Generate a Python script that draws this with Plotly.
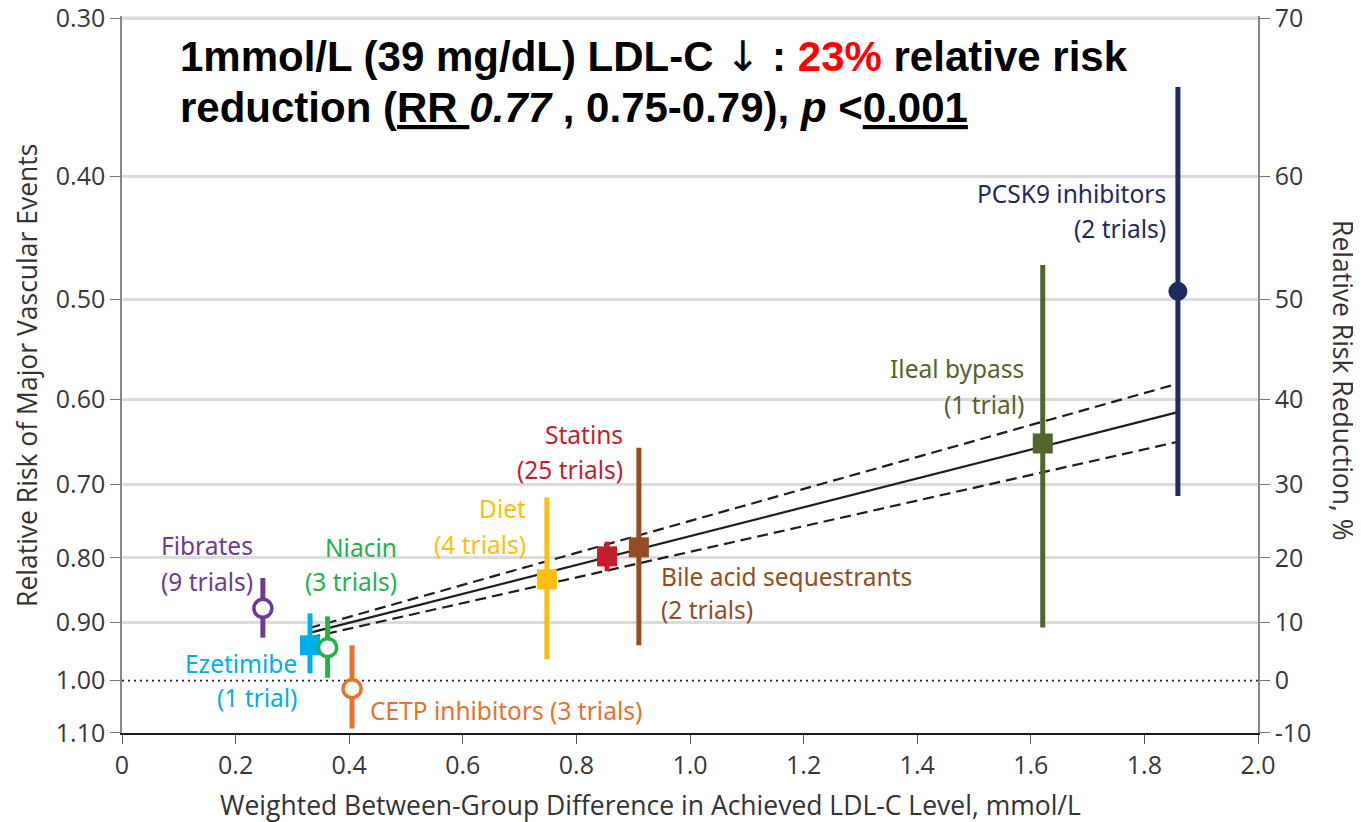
import numpy as np
import plotly.graph_objects as go

# drug classes, achieved LDL-C difference (mmol/L) and relative risk with 95% CI
classes = ["Fibrates", "Ezetimibe", "Niacin", "CETP inhibitors", "Diet",
           "Statins", "Bile acid sequestrants", "Ileal bypass", "PCSK9 inhibitors"]
n_trials = ["9 trials", "1 trial", "3 trials", "3 trials", "4 trials",
            "25 trials", "2 trials", "1 trial", "2 trials"]
ldl_diff = [0.248, 0.331, 0.362, 0.405, 0.748, 0.854, 0.910, 1.621, 1.859]
rr = [0.877, 0.938, 0.942, 1.015, 0.832, 0.798, 0.785, 0.650, 0.493]
rr_low = [0.830, 0.885, 0.890, 0.938, 0.717, 0.777, 0.655, 0.470, 0.340]
rr_high = [0.925, 0.987, 0.995, 1.091, 0.962, 0.820, 0.938, 0.908, 0.715]

colors = ["#6c3b96", "#00aeef", "#27b04b", "#e8712d", "#fdbf0f",
          "#c41e2e", "#934c24", "#52652c", "#1f2a5e"]
symbols = ["circle", "square", "circle", "circle", "square",
           "square", "square", "square", "circle"]
open_marker = [True, False, True, True, False, False, False, False, False]

# regression line RR 0.77 per mmol/L (95% CI 0.75-0.79), end points
fit_x = [0.33, 1.859]
fit_rr = [0.917, 0.614]
fit_upper = [0.909, 0.583]
fit_lower = [0.925, 0.648]
null_rr = 1.0

x_ticks = [0, 0.2, 0.4, 0.6, 0.8, 1.0, 1.2, 1.4, 1.6, 1.8, 2.0]
x_ticktext = ["0", "0.2", "0.4", "0.6", "0.8", "1.0", "1.2", "1.4", "1.6", "1.8", "2.0"]
rr_ticks = [0.30, 0.40, 0.50, 0.60, 0.70, 0.80, 0.90, 1.00, 1.10]
rr_ticktext = ["0.30", "0.40", "0.50", "0.60", "0.70", "0.80", "0.90", "1.00", "1.10"]
rrr_ticktext = ["70", "60", "50", "40", "30", "20", "10", "0", "-10"]

tick_font = dict(family="Open Sans", size=25, color="#383838")
label_font = "Noto Sans"
label_size = 24.5

fig = go.Figure()

# top grid line at 0.30 (plotly drops the one at the very edge)
fig.add_trace(go.Scatter(x=[x_ticks[0], x_ticks[-1]], y=[rr_ticks[0], rr_ticks[0]], mode="lines",
                         line=dict(color="#dcdcdc", width=3), hoverinfo="skip", showlegend=False))

# line at RR = 1 (white underlay hides the grid line)
fig.add_trace(go.Scatter(x=[x_ticks[0], x_ticks[-1]], y=[null_rr, null_rr], mode="lines",
                         line=dict(color="white", width=5), hoverinfo="skip", showlegend=False))
fig.add_trace(go.Scatter(x=[x_ticks[0], x_ticks[-1]], y=[null_rr, null_rr], mode="lines",
                         line=dict(color="#222222", width=1.8, dash="2px,4px"),
                         hoverinfo="skip", showlegend=False))

# fit and confidence lines
for ys, dash in [(fit_upper, "11px,6px"), (fit_lower, "11px,6px"), (fit_rr, "solid")]:
    fig.add_trace(go.Scatter(x=fit_x, y=ys, mode="lines",
                             line=dict(color="#1e1e1e", width=2.2, dash=dash),
                             hoverinfo="skip", showlegend=False))

# points with CI bars
for i in range(len(classes)):
    if open_marker[i]:
        msize = 18
    elif symbols[i] == "square":
        msize = 20
    else:
        msize = 19
    fig.add_trace(go.Scatter(
        x=[ldl_diff[i]], y=[rr[i]], mode="markers", name=classes[i],
        marker=dict(symbol=symbols[i], size=msize,
                    color="white" if open_marker[i] else colors[i],
                    line=dict(color=colors[i], width=3.5 if open_marker[i] else 0)),
        error_y=dict(type="data", symmetric=False,
                     array=[rr_high[i] - rr[i]], arrayminus=[rr[i] - rr_low[i]],
                     color=colors[i], thickness=5, width=0),
        showlegend=False))

# dummy trace so the right-hand axis is drawn
fig.add_trace(go.Scatter(x=[None], y=[None], yaxis="y2", showlegend=False, hoverinfo="skip"))

# group labels: (class index, x, rr of first line, rr of second line, anchor)
label_pos = [
    (0, 0.234, 0.783, 0.835, "right"),
    (1, 0.311, 0.970, 1.031, "right"),
    (2, 0.487, 0.785, 0.836, "right"),
    (4, 0.715, 0.732, 0.781, "right"),
    (5, 0.885, 0.640, 0.682, "right"),
    (6, 0.945, 0.827, 0.879, "left"),
    (7, 1.592, 0.567, 0.605, "right"),
    (8, 1.842, 0.413, 0.440, "right"),
]
annotations = []
for idx, lx, y1, y2, anchor in label_pos:
    for txt, yy in [(classes[idx], y1), ("(" + n_trials[idx] + ")", y2)]:
        annotations.append(dict(x=lx, y=np.log10(yy), xref="x", yref="y", text=txt,
                                showarrow=False, xanchor=anchor, yanchor="middle",
                                font=dict(family=label_font, size=label_size, color=colors[idx])))
annotations.append(dict(x=0.433, y=np.log10(1.056), xref="x", yref="y",
                        text=classes[3] + " (" + n_trials[3] + ")", showarrow=False,
                        xanchor="left", yanchor="middle",
                        font=dict(family=label_font, size=label_size, color=colors[3])))

# headline text
title_font = dict(family="Liberation Sans, Arial", size=42, color="black")
annotations.append(dict(
    x=0.049, y=0.943, xref="paper", yref="paper", xanchor="left", yanchor="middle",
    showarrow=False, font=title_font,
    text="<b>1mmol/L (39 mg/dL) LDL-C </b><span style='font-family:DejaVu Sans'>↓</span>"
         "<b> : <span style='color:#ff0000'>23%</span> relative risk</b>"))
annotations.append(dict(
    x=0.049, y=0.873, xref="paper", yref="paper", xanchor="left", yanchor="middle",
    showarrow=False, font=title_font,
    text="<b>reduction (<u>RR </u><i>0.77</i> , 0.75-0.79), <i>p</i> &lt;<u>0.001</u></b>"))

# axis titles
axis_title_font = dict(family="Open Sans", size=26.5, color="#333333")
annotations.append(dict(x=-0.083, y=0.499, xref="paper", yref="paper", textangle=-90,
                        xanchor="center", yanchor="middle",
                        text="Relative Risk of Major Vascular Events", showarrow=False,
                        font=axis_title_font))
annotations.append(dict(x=1.075, y=0.492, xref="paper", yref="paper", textangle=90,
                        xanchor="center", yanchor="middle",
                        text="Relative Risk Reduction, %", showarrow=False,
                        font=axis_title_font))
annotations.append(dict(x=0.465, y=-0.101, xref="paper", yref="paper",
                        xanchor="center", yanchor="middle",
                        text="Weighted Between-Group Difference in Achieved LDL-C Level, mmol/L",
                        showarrow=False, font=axis_title_font))

# a little headroom above 0.30 so its labels are kept
y_range = [np.log10(rr_ticks[-1]) + 1e-5, np.log10(rr_ticks[0]) - 0.0016]

fig.update_layout(
    width=1353, height=814,
    margin=dict(l=114, r=103, t=8, b=89),
    paper_bgcolor="white", plot_bgcolor="white",
    annotations=annotations,
    xaxis=dict(range=[x_ticks[0], x_ticks[-1]], tickvals=x_ticks, ticktext=x_ticktext,
               ticks="outside", ticklen=9, tickcolor="#555555", tickwidth=1.2,
               showline=True, linecolor="#1a1a1a", linewidth=2, automargin=False,
               showgrid=False, zeroline=False, tickfont=tick_font),
    yaxis=dict(type="log", range=y_range, tickvals=rr_ticks, ticktext=rr_ticktext,
               ticks="outside", ticklen=10, tickcolor="#777777", tickwidth=1.2,
               showline=True, linecolor="#888888", linewidth=1.5, automargin=False,
               ticklabeloverflow="allow",
               showgrid=True, gridcolor="#dcdcdc", gridwidth=3,
               zeroline=False, tickfont=tick_font),
    yaxis2=dict(type="log", range=y_range, tickvals=rr_ticks, ticktext=rrr_ticktext,
                overlaying="y", side="right", automargin=False,
                ticklabeloverflow="allow",
                ticks="outside", ticklen=10, tickcolor="#777777", tickwidth=1.2,
                showline=True, linecolor="#888888", linewidth=1.5,
                showgrid=False, zeroline=False, tickfont=tick_font),
)

fig.write_html("out.html")
